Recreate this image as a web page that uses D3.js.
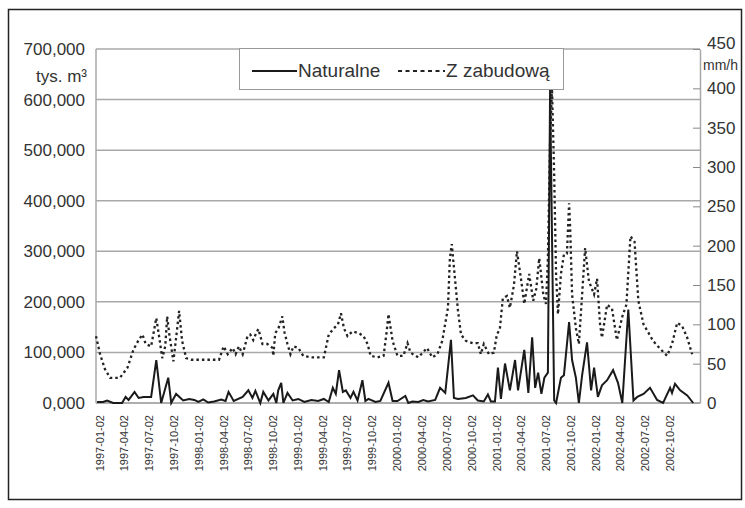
<!DOCTYPE html>
<html>
<head>
<meta charset="utf-8">
<script src="https://cdn.jsdelivr.net/npm/d3@7"></script>
<style>
  body { margin: 0; background: #fff; }
  text { font-family: "Liberation Sans", Arial, sans-serif; fill: #333; }
</style>
</head>
<body>
<div id="chart"></div>
<script>
// Naturalne (tys. m3, lewa oś)
const natDates = ["1996-12-22","1997-01-13","1997-01-28","1997-02-19","1997-03-24","1997-04-06","1997-04-17","1997-05-09","1997-05-24","1997-06-11",
  "1997-07-09","1997-07-28","1997-08-15","1997-09-10","1997-09-21","1997-10-09","1997-11-04","1997-11-26","1997-12-15","1997-12-30",
  "1998-01-17","1998-02-04","1998-02-26","1998-03-24","1998-04-09","1998-04-20","1998-05-09","1998-06-11","1998-07-02","1998-07-17",
  "1998-07-28","1998-08-15","1998-08-26","1998-09-14","1998-10-02","1998-10-13","1998-10-20","1998-10-31","1998-11-08","1998-11-23",
  "1998-12-12","1999-01-02","1999-01-24","1999-02-19","1999-03-16","1999-04-06","1999-04-24","1999-05-09","1999-05-20","1999-06-01",
  "1999-06-15","1999-06-26","1999-07-13","1999-07-24","1999-08-08","1999-08-26","1999-09-06","1999-09-17","1999-10-13","1999-10-31",
  "1999-11-30","1999-12-15","2000-01-02","2000-01-31","2000-02-11","2000-02-26","2000-03-19","2000-04-06","2000-04-24","2000-05-20",
  "2000-06-07","2000-06-26","2000-07-17","2000-07-28","2000-08-12","2000-09-10","2000-10-06","2000-10-24","2000-11-15","2000-11-30",
  "2000-12-11","2000-12-26","2001-01-06","2001-01-17","2001-02-01","2001-02-19","2001-03-10","2001-03-21","2001-04-13","2001-04-28",
  "2001-05-12","2001-05-23","2001-06-03","2001-06-15","2001-06-26","2001-07-09","2001-07-17","2001-08-01","2001-08-08","2001-08-26",
  "2001-09-06","2001-09-25","2001-10-06","2001-10-20","2001-10-31","2001-11-12","2001-11-30","2001-12-15","2001-12-26","2002-01-09",
  "2002-01-24","2002-02-12","2002-03-06","2002-03-24","2002-04-09","2002-05-01","2002-05-20","2002-06-03","2002-06-26","2002-07-20",
  "2002-08-15","2002-09-06","2002-10-02","2002-10-09","2002-10-20","2002-11-08","2002-12-04","2002-12-26"];
const natValues = [2,2,5,0,0,12,6,22,10,12,
  12,85,0,50,0,18,5,8,6,2,
  7,1,3,7,4,22,4,12,25,10,
  24,0,22,5,18,0,25,40,0,20,
  5,8,2,6,4,8,2,30,18,65,
  22,25,10,22,5,45,4,8,2,4,
  40,4,4,14,0,3,2,6,3,6,
  30,20,125,10,8,10,15,5,3,17,
  3,3,70,8,78,25,85,25,105,20,
  130,30,60,18,50,60,620,5,0,50,
  55,160,85,50,0,55,120,25,70,12,
  35,45,65,40,0,185,5,12,18,30,
  6,0,30,20,38,25,15,0];

// Z zabudową (mm/h, prawa oś)
const zabDates = ["1996-12-18","1997-01-02","1997-01-20","1997-02-08","1997-03-16","1997-04-13","1997-05-05","1997-05-24","1997-06-07","1997-06-19",
  "1997-07-09","1997-07-28","1997-08-08","1997-08-19","1997-08-30","1997-09-06","1997-09-14","1997-09-29","1997-10-09","1997-10-20",
  "1997-10-31","1997-11-15","1997-12-04","1998-01-09","1998-02-15","1998-03-16","1998-04-02","1998-04-17","1998-05-05","1998-05-16",
  "1998-05-28","1998-06-11","1998-06-29","1998-07-09","1998-07-20","1998-07-31","1998-08-08","1998-08-23","1998-09-10","1998-09-29",
  "1998-10-02","1998-10-09","1998-10-20","1998-11-04","1998-11-12","1998-11-23","1998-12-04","1998-12-15","1999-01-02","1999-01-20",
  "1999-02-19","1999-03-20","1999-04-06","1999-04-24","1999-05-13","1999-05-28","1999-06-08","1999-06-19","1999-07-02","1999-07-20",
  "1999-08-12","1999-08-30","1999-09-14","1999-09-25","1999-10-20","1999-11-12","1999-11-23","1999-11-30","1999-12-15","2000-01-02",
  "2000-01-24","2000-02-08","2000-02-19","2000-03-19","2000-04-20","2000-05-09","2000-05-28","2000-06-15","2000-07-06","2000-07-13",
  "2000-07-20","2000-07-28","2000-08-12","2000-08-23","2000-09-10","2000-10-06","2000-10-24","2000-11-04","2000-11-15","2000-12-04",
  "2000-12-22","2001-01-02","2001-01-13","2001-01-24","2001-02-08","2001-02-19","2001-03-06","2001-03-17","2001-04-02","2001-04-13",
  "2001-05-01","2001-05-16","2001-05-27","2001-06-07","2001-06-22","2001-07-02","2001-07-09","2001-07-17","2001-07-24","2001-08-01",
  "2001-08-08","2001-08-15","2001-08-26","2001-09-06","2001-09-17","2001-09-25","2001-09-29","2001-10-06","2001-10-20","2001-10-31",
  "2001-11-12","2001-11-23","2001-12-07","2001-12-26","2002-01-06","2002-01-17","2002-01-24","2002-02-12","2002-03-02","2002-03-20",
  "2002-04-09","2002-04-24","2002-05-09","2002-05-24","2002-06-07","2002-06-26","2002-07-13","2002-07-31","2002-08-26","2002-09-21",
  "2002-10-09","2002-10-28","2002-11-15","2002-12-04","2002-12-22"];
const zabValues = [85,62,43,32,32,45,68,80,87,75,
  72,108,83,57,72,110,87,53,83,117,
  79,57,55,55,55,55,72,62,70,62,
  72,62,85,87,80,89,94,75,75,70,
  60,89,94,110,90,75,62,72,70,60,
  58,58,58,87,95,100,114,95,85,91,
  89,85,75,60,58,60,90,113,79,60,
  60,76,64,58,70,58,62,79,121,184,
  202,172,117,87,79,76,76,62,75,62,
  64,87,94,133,136,121,150,193,155,126,
  164,130,145,184,138,126,184,333,400,291,
  164,113,164,189,190,254,222,138,95,75,
  138,197,155,138,158,100,83,125,120,80,
  110,125,212,205,130,100,90,79,69,60,
  75,102,98,83,62];

const leftTicks = [0, 100, 200, 300, 400, 500, 600, 700];
const rightTicks = [0, 50, 100, 150, 200, 250, 300, 350, 400, 450];
const xTickLabels = ["1997-01-02","1997-04-02","1997-07-02","1997-10-02","1998-01-02","1998-04-02","1998-07-02","1998-10-02",
  "1999-01-02","1999-04-02","1999-07-02","1999-10-02","2000-01-02","2000-04-02","2000-07-02","2000-10-02",
  "2001-01-02","2001-04-02","2001-07-02","2001-10-02","2002-01-02","2002-04-02","2002-07-02","2002-10-02"];

const W = 745, H = 508;
const plot = { left: 96, right: 700, top: 49, bottom: 403 };
const parse = d3.utcParse("%Y-%m-%d");

const nat = natDates.map((d, i) => ({ date: parse(d), v: natValues[i] }));
const zab = zabDates.map((d, i) => ({ date: parse(d), v: zabValues[i] }));

const svg = d3.select("#chart").append("svg")
  .attr("width", W).attr("height", H);

svg.append("rect").attr("width", W).attr("height", H).attr("fill", "#fff");
// ramka
svg.append("rect")
  .attr("x", 8.5).attr("y", 9.5).attr("width", 733).attr("height", 490)
  .attr("fill", "none").attr("stroke", "#222").attr("stroke-width", 1.5);

const x = d3.scaleUtc()
  .domain([parse("1996-12-18"), parse("2003-01-20")])
  .range([plot.left, plot.right]);
const yL = d3.scaleLinear().domain([0, 700]).range([plot.bottom, plot.top]);
const yR = d3.scaleLinear().domain([0, 450]).range([plot.bottom, plot.top]);

const pl = d3.formatLocale({ decimal: ",", thousands: " ", grouping: [3], currency: ["", ""] });
const fmt = pl.format(".3f");

// siatka
svg.append("g").selectAll("line")
  .data(leftTicks)
  .join("line")
  .attr("x1", plot.left).attr("x2", plot.right)
  .attr("y1", d => yL(d)).attr("y2", d => yL(d))
  .attr("stroke", "#a8a8a8").attr("stroke-width", 1.5);

// ramka wykresu
svg.append("line").attr("x1", plot.left).attr("x2", plot.left)
  .attr("y1", plot.top).attr("y2", plot.bottom)
  .attr("stroke", "#a8a8a8").attr("stroke-width", 1.5);

// lewa oś
const axL = svg.append("g")
  .attr("transform", `translate(${plot.left},0)`)
  .call(d3.axisLeft(yL).tickValues(leftTicks).tickSize(0).tickPadding(11).tickFormat(fmt));
axL.select(".domain").remove();
axL.selectAll("text").style("font-size", "17px").attr("fill", "#333")
  .style("font-family", "'Liberation Sans', Arial, sans-serif");

svg.append("text").attr("x", 87).attr("y", 82)
  .attr("text-anchor", "end").style("font-size", "17px")
  .text("tys. m³");

// prawa oś
const axR = svg.append("g")
  .attr("transform", `translate(${plot.right},0)`)
  .call(d3.axisRight(yR).tickValues(rightTicks).tickSizeInner(-7).tickSizeOuter(0).tickPadding(7));
axR.select(".domain").attr("stroke", "#a8a8a8").attr("stroke-width", 1.5);
axR.selectAll(".tick line").attr("stroke", "#888");
axR.selectAll("text").style("font-size", "17px").attr("fill", "#333")
  .style("font-family", "'Liberation Sans', Arial, sans-serif");
axR.selectAll(".tick").filter(d => d === 450).select("text").attr("dy", "-0.05em");

svg.append("text").attr("x", 703).attr("y", 70)
  .style("font-size", "14px").text("mm/h");

// oś X
svg.append("line").attr("x1", plot.left).attr("x2", plot.right)
  .attr("y1", plot.bottom).attr("y2", plot.bottom)
  .attr("stroke", "#a8a8a8").attr("stroke-width", 1.5);

svg.append("g").selectAll("text")
  .data(xTickLabels)
  .join("text")
  .attr("transform", d => `translate(${x(parse(d))},415) rotate(-90)`)
  .attr("text-anchor", "end").attr("dy", "0.35em")
  .style("font-size", "11px")
  .text(d => d);

// linie
const lineL = d3.line().x(d => x(d.date)).y(d => yL(d.v));
const lineR = d3.line().x(d => x(d.date)).y(d => yR(d.v));

svg.append("path").datum(zab)
  .attr("d", lineR).attr("fill", "none")
  .attr("stroke", "#222").attr("stroke-width", 2.3)
  .attr("stroke-dasharray", "2.5,3");

svg.append("path").datum(nat)
  .attr("d", lineL).attr("fill", "none")
  .attr("stroke", "#1a1a1a").attr("stroke-width", 2)
  .attr("stroke-linejoin", "miter");

// legenda
const leg = svg.append("g");
leg.append("rect").attr("x", 239.5).attr("y", 48.5).attr("width", 324).attr("height", 41)
  .attr("fill", "#fff").attr("stroke", "#999").attr("stroke-width", 1);
leg.append("line").attr("x1", 252).attr("x2", 297).attr("y1", 71).attr("y2", 71)
  .attr("stroke", "#1a1a1a").attr("stroke-width", 2);
leg.append("text").attr("x", 298).attr("y", 77).style("font-size", "19px").text("Naturalne");
leg.append("line").attr("x1", 398).attr("x2", 445).attr("y1", 71).attr("y2", 71)
  .attr("stroke", "#222").attr("stroke-width", 2).attr("stroke-dasharray", "4,3.5");
leg.append("text").attr("x", 446).attr("y", 77).style("font-size", "19px").text("Z zabudową");
</script>
</body>
</html>
